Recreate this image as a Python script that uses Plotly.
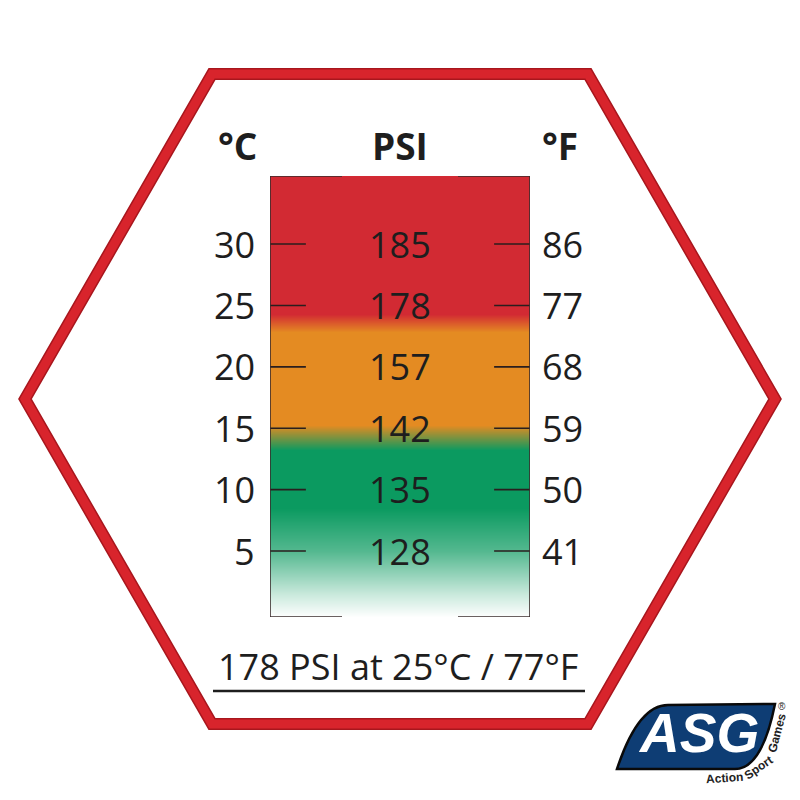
import plotly.graph_objects as go

# ---------------- data ----------------
celsius = [30, 25, 20, 15, 10, 5]
psi = [185, 178, 157, 142, 135, 128]
fahrenheit = [86, 77, 68, 59, 50, 41]
headers = ["°C", "PSI", "°F"]
footer_text = "178 PSI at 25°C / 77°F"

# colour gradient of the bar (temperature -> colour level)
grad_temps = [-0.37, 1.5, 5.0, 8.5, 13.2, 15.3, 22.8, 24.3, 35.54]
grad_levels = [0.0, 0.22, 0.7, 1.0, 1.0, 2.0, 2.0, 3.0, 3.0]
grad_colors = ["#ffffff", "#0b9a60", "#e48b22", "#d22a33"]

T_MIN, T_MAX = -0.37, 35.54
OFF = 8          # page body margin
W = H = 792


def px(x):
    return (x - OFF) / W


def py(y):
    return 1 - (y - OFF) / H


BX0, BX1 = 270, 530   # bar pixel edges


def bx(x):
    """pixel x -> paper x"""
    return px(x)


fig = go.Figure()

# gradient bar
fig.add_trace(go.Heatmap(
    x=[0, 1], y=grad_temps,
    z=[[v, v] for v in grad_levels],
    zmin=0, zmax=3, zsmooth="best", showscale=False, hoverinfo="skip",
    colorscale=[[i / 3, c] for i, c in enumerate(grad_colors)],
))

tick_col = "#2a1e1e"
for t in celsius:
    fig.add_trace(go.Scatter(x=[0, 0.138], y=[t, t], mode="lines",
                             line=dict(color=tick_col, width=1.6),
                             hoverinfo="skip", showlegend=False))
    fig.add_trace(go.Scatter(x=[0.862, 1], y=[t, t], mode="lines",
                             line=dict(color=tick_col, width=1.6),
                             hoverinfo="skip", showlegend=False))

outline = dict(color="#3a2c2c", width=1.6)
for xs, ys in [([0, 0], [T_MIN, T_MAX]), ([1, 1], [T_MIN, T_MAX]),
               ([0, 0.277], [T_MAX, T_MAX]), ([0.723, 1], [T_MAX, T_MAX]),
               ([0, 0.277], [T_MIN, T_MIN]), ([0.723, 1], [T_MIN, T_MIN])]:
    fig.add_trace(go.Scatter(x=xs, y=ys, mode="lines", line=outline,
                             hoverinfo="skip", showlegend=False, cliponaxis=False))

txt_font = dict(family="Open Sans", size=36, color="#1e1e1e")
annotations = []
for c, p, f in zip(celsius, psi, fahrenheit):
    annotations.append(dict(x=bx(257), y=c, xref="paper", yref="y", text=str(c),
                            xanchor="right", yanchor="middle", showarrow=False, font=txt_font))
    annotations.append(dict(x=0.5, y=c, xref="x", yref="y", text=str(p),
                            xanchor="center", yanchor="middle", showarrow=False, font=txt_font))
    annotations.append(dict(x=bx(540), y=c, xref="paper", yref="y", text=str(f),
                            xanchor="left", yanchor="middle", showarrow=False, font=txt_font))

hdr_font = dict(family="Open Sans", size=37, color="#1e1e1e", weight="bold")
for h, xc in zip(headers, [237, 400, 560]):
    annotations.append(dict(x=px(xc), y=py(145), xref="paper", yref="paper", text=h,
                            xanchor="center", yanchor="middle", showarrow=False, font=hdr_font))

annotations.append(dict(x=px(398), y=py(666), xref="paper", yref="paper", text=footer_text,
                        xanchor="center", yanchor="middle", showarrow=False,
                        font=dict(family="Open Sans", size=36, color="#1e1e1e")))

# logo texts
annotations.append(dict(x=px(698), y=py(733), xref="paper", yref="paper", text="<b><i>ASG</i></b>",
                        xanchor="center", yanchor="middle", showarrow=False,
                        font=dict(family="Liberation Sans", size=55, color="#ffffff")))
logo_font = dict(family="Liberation Sans", size=12, color="#222222", weight="bold")
annotations.append(dict(x=px(724), y=py(778), xref="paper", yref="paper", text="Action",
                        xanchor="center", yanchor="middle", showarrow=False, font=logo_font,
                        textangle=-4))
annotations.append(dict(x=px(758), y=py(768), xref="paper", yref="paper", text="Sport",
                        xanchor="center", yanchor="middle", showarrow=False, font=logo_font,
                        textangle=-35))
annotations.append(dict(x=px(777), y=py(733), xref="paper", yref="paper", text="Games",
                        xanchor="center", yanchor="middle", showarrow=False, font=logo_font,
                        textangle=-75))
annotations.append(dict(x=px(782), y=py(706), xref="paper", yref="paper", text="®",
                        xanchor="center", yanchor="middle", showarrow=False,
                        font=dict(family="Liberation Sans", size=10, color="#222222")))

# hexagon
hex_pts = [(212, 74), (588, 74), (775, 399), (588, 724), (212, 724), (25, 399)]
path = "M " + " L ".join(f"{px(x):.5f},{py(y):.5f}" for x, y in hex_pts) + " Z"
shapes = [
    dict(type="path", path=path, xref="paper", yref="paper",
         line=dict(color="#a8161d", width=12), layer="below"),
    dict(type="path", path=path, xref="paper", yref="paper",
         line=dict(color="#d8242c", width=9), layer="below"),
    dict(type="line", xref="paper", yref="paper", x0=px(213), x1=px(585), y0=py(691), y1=py(691),
         line=dict(color="#1e1e1e", width=2.5)),
]
logo_pts = "M {a} Q {b} {c} L {d} Q {e} {f} Z".format(
    a=f"{px(617):.5f},{py(769):.5f}", b=f"{px(638):.5f},{py(705):.5f}",
    c=f"{px(668):.5f},{py(705):.5f}", d=f"{px(775):.5f},{py(704):.5f}",
    e=f"{px(762):.5f},{py(769):.5f}", f=f"{px(735):.5f},{py(769):.5f}")
shapes.append(dict(type="path", path=logo_pts, xref="paper", yref="paper",
                   fillcolor="#0e3d74", line=dict(color="#0a0a0a", width=2.5), layer="below"))

fig.update_layout(
    width=W, height=H, margin=dict(l=0, r=0, t=0, b=0),
    paper_bgcolor="white", plot_bgcolor="white", showlegend=False,
    xaxis=dict(domain=[px(BX0), px(BX1)], range=[0, 1], visible=False, fixedrange=True),
    yaxis=dict(domain=[py(617), py(176)], range=[T_MIN, T_MAX], visible=False, fixedrange=True),
    annotations=annotations, shapes=shapes,
)

fig.write_html("out.html")
